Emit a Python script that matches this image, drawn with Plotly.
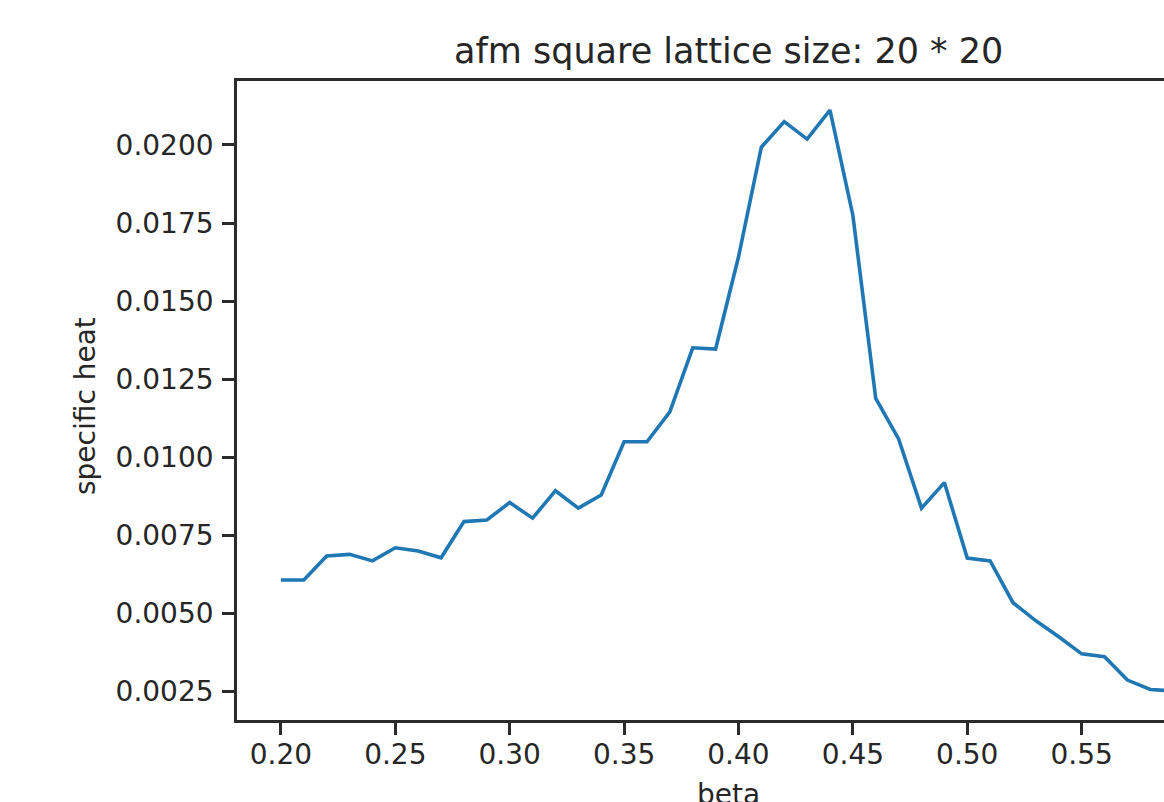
import plotly.graph_objects as go

# ---- data ----
beta = [0.20, 0.21, 0.22, 0.23, 0.24, 0.25, 0.26, 0.27, 0.28, 0.29,
        0.30, 0.31, 0.32, 0.33, 0.34, 0.35, 0.36, 0.37, 0.38, 0.39,
        0.40, 0.41, 0.42, 0.43, 0.44, 0.45, 0.46, 0.47, 0.48, 0.49,
        0.50, 0.51, 0.52, 0.53, 0.54, 0.55, 0.56, 0.57, 0.58, 0.59]
specific_heat = [0.00606, 0.00606, 0.00683, 0.00688, 0.00667, 0.00709, 0.00699, 0.00677, 0.00793, 0.00798,
                 0.00854, 0.00804, 0.00892, 0.00836, 0.00878, 0.01049, 0.01049, 0.01145, 0.01350, 0.01346,
                 0.01641, 0.01993, 0.02075, 0.02019, 0.02112, 0.01775, 0.01188, 0.01058, 0.00836, 0.00918,
                 0.00676, 0.00667, 0.00533, 0.00475, 0.00424, 0.00369, 0.00360, 0.00285, 0.00255, 0.00250]

x_ticks = [0.20, 0.25, 0.30, 0.35, 0.40, 0.45, 0.50, 0.55]
x_ticklabels = ["0.20", "0.25", "0.30", "0.35", "0.40", "0.45", "0.50", "0.55"]
y_ticks = [0.0025, 0.0050, 0.0075, 0.0100, 0.0125, 0.0150, 0.0175, 0.0200]
y_ticklabels = ["0.0025", "0.0050", "0.0075", "0.0100", "0.0125", "0.0150", "0.0175", "0.0200"]

title_text = "afm square lattice size: 20 * 20"
x_label = "beta"
y_label = "specific heat"

FONT = "DejaVu Sans"
INK = "#262626"
SPINE = "#2b2b2b"

fig = go.Figure()
fig.add_trace(go.Scatter(
    x=beta, y=specific_heat, mode="lines",
    line=dict(color="#1f77b4", width=3.6),
    showlegend=False, hoverinfo="skip",
))

fig.update_layout(
    width=1164, height=802,
    margin=dict(l=237, r=0, t=81, b=82, pad=0),
    paper_bgcolor="white", plot_bgcolor="white",
    font=dict(family=FONT, size=28, color=INK),
    showlegend=False,
)

fig.update_xaxes(
    range=[0.1808, 0.5860],
    tickmode="array", tickvals=x_ticks, ticktext=x_ticklabels,
    ticks="outside", ticklen=12, tickwidth=2.5, tickcolor=SPINE,
    showline=True, linecolor=SPINE, linewidth=2.7, mirror=True,
    showgrid=False, zeroline=False,
    tickfont=dict(family=FONT, size=28, color=INK),
    ticklabelstandoff=-4,
)
fig.update_yaxes(
    range=[0.001571, 0.022051],
    tickmode="array", tickvals=y_ticks, ticktext=y_ticklabels,
    ticks="outside", ticklen=12, tickwidth=2.5, tickcolor=SPINE,
    showline=True, linecolor=SPINE, linewidth=2.7, mirror=False,
    showgrid=False, zeroline=False,
    tickfont=dict(family=FONT, size=28, color=INK),
    ticklabelstandoff=3,
)

# title
fig.add_annotation(
    text=title_text, xref="paper", yref="paper",
    x=(728.5 - 237) / 927, y=(720 - 51) / 639,
    xanchor="center", yanchor="middle", showarrow=False,
    font=dict(family=FONT, size=35, color=INK),
)
# y label
fig.add_annotation(
    text=y_label, xref="paper", yref="paper",
    x=(85 - 237) / 927, y=(720 - 406) / 639,
    xanchor="center", yanchor="middle", textangle=-90, showarrow=False,
    font=dict(family=FONT, size=28, color=INK),
)
# x label (cut off at the bottom edge, as in the reference)
fig.add_annotation(
    text=x_label, xref="paper", yref="paper",
    x=(728 - 237) / 927, y=(720 - 776) / 639,
    xanchor="center", yanchor="top", showarrow=False,
    font=dict(family=FONT, size=28, color=INK),
)

fig.write_html(
    "out.html",
    config={"displayModeBar": False},
    post_script="document.body.style.margin='0';document.body.style.overflow='hidden';",
)
